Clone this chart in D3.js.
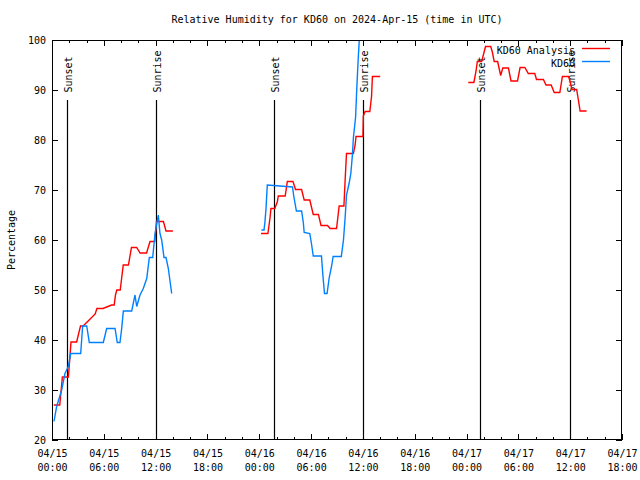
<!DOCTYPE html>
<html><head><meta charset="utf-8">
<script src="https://cdn.jsdelivr.net/npm/d3@7"></script>
<style>
body{margin:0;background:#fff}
text{font-family:"DejaVu Sans Mono","Liberation Mono",monospace;font-size:10px;fill:#000}
</style>
</head><body>
<svg id="chart" width="640" height="480"></svg>
<script>
// ---- data (hours since 2024-04-15 00:00 UTC) ----
const chartTitle = "Relative Humidity for KD60 on 2024-Apr-15 (time in UTC)";
const yLabel = "Percentage";
const seriesNames = ["KD60 Analysis", "KD60"];
const xTickHours = [0, 6, 12, 18, 24, 30, 36, 42, 48, 54, 60, 66];
const xTickLabels = ["04/15 00:00","04/15 06:00","04/15 12:00","04/15 18:00",
  "04/16 00:00","04/16 06:00","04/16 12:00","04/16 18:00",
  "04/17 00:00","04/17 06:00","04/17 12:00","04/17 18:00"];
const yTicks = [20, 30, 40, 50, 60, 70, 80, 90, 100];
const sunsetHours = [1.7, 25.75, 49.6];
const sunriseHours = [12.05, 36.0, 59.95];

const analysisHours = [0.2,0.9,1.2,1.9,2.2,2.85,3.3,3.6,4.3,5.0,5.2,5.9,6.9,7.2,7.35,7.5,7.9,8.25,8.85,9.2,9.8,10.2,10.95,11.35,11.9,12.1,12.9,13.2,14.0,
  14.1,
  24.2,25.0,25.25,25.35,25.8,26.1,26.2,27.0,27.25,27.9,28.2,28.9,29.2,29.85,30.25,30.85,31.15,31.9,32.2,32.95,33.25,33.8,33.95,34.1,34.9,35.1,35.2,36.0,36.05,36.25,36.8,37.0,37.1,38.0,
  38.1,
  48.2,48.85,49.1,49.25,49.75,50.2,50.8,51.0,51.2,51.6,51.95,52.2,52.85,53.15,53.9,54.2,54.75,55.15,55.9,56.1,56.9,57.2,57.8,58.15,58.8,59.1,59.8,59.95,60.2,60.75,60.95,61.15,61.9];
const analysisValues = [27,27,32.6,32.6,39.6,39.6,42.8,42.8,44,45.2,46.3,46.3,47,47,49,50,50,55,55,58.5,58.5,57.4,57.4,59.7,59.7,63.7,63.7,61.8,61.8,
  null,
  61.3,61.3,64.5,66.3,66.3,67.7,68.8,68.8,71.7,71.7,70.1,70.1,68,68,65.1,65.1,62.9,62.9,62.3,62.3,66.8,66.8,72.3,77.3,77.3,79,80.7,80.7,84.8,85.7,85.7,88.7,92.7,92.7,
  null,
  91.5,91.5,93.8,95.7,95.7,98.7,98.7,97.5,95.7,95.7,92.9,94.4,94.4,91.8,91.8,94.5,94.5,93.3,93.3,92.1,92.1,91,91,89.5,89.5,92.7,92.7,92,90.1,90.1,88,85.8,85.8];

const obsHours = [0.23,0.54,1.12,1.5,1.89,2.17,3.32,3.55,4.02,4.32,5.94,6.33,7.3,7.56,7.87,8.07,8.26,9.23,9.61,9.81,10.19,10.57,10.97,11.27,11.66,11.93,12.31,12.5,12.7,12.97,13.2,13.47,13.86,
  14.0,
  24.25,24.55,24.65,24.78,24.93,27.85,28.0,28.3,28.9,29.1,29.2,29.85,30.05,30.25,31.2,31.35,31.55,31.85,32.1,32.4,32.55,33.5,33.75,33.95,34.1,34.4,34.6,34.77,34.9,35.15,35.3,35.45,35.58];
const obsValues = [23.7,26.7,30,33.3,34.7,37.3,37.3,42.8,42.8,39.5,39.5,42.3,42.3,39.5,39.5,42.3,45.8,45.8,49,46.7,49,50.3,52.3,56.5,56.5,61.3,65,61.3,60,56.5,56.5,54.3,49.3,
  null,
  62,62,63.5,66.3,71,70.6,68.7,65.8,65.8,63.5,61.5,61.3,59.2,56.8,56.8,53.3,49.3,49.3,52.5,55,56.7,56.7,60,64.7,69,71.3,73.3,76.7,80.5,84.5,90.7,96,100];

// ---- layout ----
const L = 52, R = 622, T = 40, B = 440;
const svg = d3.select("#chart");
const x = d3.scaleLinear().domain([0, 66]).range([L, R]);
const y = d3.scaleLinear().domain([20, 100]).range([B, T]);

svg.append("rect").attr("width", 640).attr("height", 480).attr("fill", "#fff");

svg.append("defs").append("clipPath").attr("id", "clip")
  .append("rect").attr("x", L).attr("y", T).attr("width", R - L).attr("height", B - T);

// minor x ticks every 2 h
const minorX = d3.range(0, 67, 2).filter(h => h % 6 !== 0);

function styleAxis(g) {
  g.select(".domain").remove();
  g.selectAll("line").attr("stroke", "#000").attr("shape-rendering", "crispEdges");
  g.selectAll("text").style("font-family", "DejaVu Sans Mono, monospace").style("font-size", "10px");
}

// bottom axis (major)
const gx = svg.append("g").attr("transform", `translate(0,${B})`)
  .call(d3.axisBottom(x).tickValues(xTickHours).tickSize(-6).tickPadding(17)
    .tickFormat((d, i) => xTickLabels[i]));
styleAxis(gx);
gx.selectAll("text").each(function() {
  const t = d3.select(this); const parts = t.text().split(" ");
  t.text(null).attr("dy", null);
  t.append("tspan").attr("x", 0).attr("dy", 0).text(parts[0]);
  t.append("tspan").attr("x", 0).attr("dy", 14).text(parts[1]);
});
svg.append("g").attr("transform", `translate(0,${B})`)
  .call(d3.axisBottom(x).tickValues(minorX).tickSize(-3).tickFormat(""))
  .call(styleAxis);
// top mirror
svg.append("g").attr("transform", `translate(0,${T})`)
  .call(d3.axisTop(x).tickValues(xTickHours).tickSize(-6).tickFormat(""))
  .call(styleAxis);
svg.append("g").attr("transform", `translate(0,${T})`)
  .call(d3.axisTop(x).tickValues(minorX).tickSize(-3).tickFormat(""))
  .call(styleAxis);

// left axis
const gy = svg.append("g").attr("transform", `translate(${L},0)`)
  .call(d3.axisLeft(y).tickValues(yTicks).tickSize(-6).tickPadding(6).tickFormat(d3.format("d")));
styleAxis(gy);
gy.selectAll("text").attr("x", -6);
// right mirror
svg.append("g").attr("transform", `translate(${R},0)`)
  .call(d3.axisRight(y).tickValues(yTicks).tickSize(-6).tickFormat(""))
  .call(styleAxis);

// sunset / sunrise markers
const markers = sunsetHours.map(h => ({h, label: "Sunset"}))
  .concat(sunriseHours.map(h => ({h, label: "Sunrise"})));
const mg = svg.append("g");
markers.forEach(m => {
  const px = Math.round(x(m.h)) + 0.5;
  mg.append("line").attr("x1", px).attr("x2", px).attr("y1", y(88)).attr("y2", B)
    .attr("stroke", "#000").attr("stroke-width", 1.2);
  mg.append("text").attr("transform", `translate(${px + 4.5},${y(89.5)}) rotate(-90)`)
    .attr("text-anchor", "start").text(m.label);
});

// series
const line = d3.line().defined(d => d[1] !== null).x(d => x(d[0])).y(d => y(d[1]));
const plot = svg.append("g").attr("clip-path", "url(#clip)");
plot.append("path").datum(analysisHours.map((h, i) => [h, analysisValues[i]]))
  .attr("d", line).attr("fill", "none").attr("stroke", "#ff0000").attr("stroke-width", 1.4);
plot.append("path").datum(obsHours.map((h, i) => [h, obsValues[i]]))
  .attr("d", line).attr("fill", "none").attr("stroke", "#0080ff").attr("stroke-width", 1.4);

// frame
svg.append("rect").attr("x", L + 0.5).attr("y", T + 0.5).attr("width", R - L - 1).attr("height", B - T - 1)
  .attr("fill", "none").attr("stroke", "#000").attr("stroke-width", 1);

// legend
const legColors = ["#ff0000", "#0080ff"];
seriesNames.forEach((n, i) => {
  const ly = 50 + i * 13;
  svg.append("text").attr("x", 575).attr("y", ly + 3.5).attr("text-anchor", "end").text(n);
  svg.append("line").attr("x1", 582).attr("x2", 610).attr("y1", ly - 1.5).attr("y2", ly - 1.5)
    .attr("stroke", legColors[i]).attr("stroke-width", 1.4);
});

// title and y label
svg.append("text").attr("x", (L + R) / 2).attr("y", 23).attr("text-anchor", "middle").text(chartTitle);
svg.append("text").attr("transform", `translate(15,240) rotate(-90)`).attr("text-anchor", "middle").text(yLabel);
</script>
</body></html>
